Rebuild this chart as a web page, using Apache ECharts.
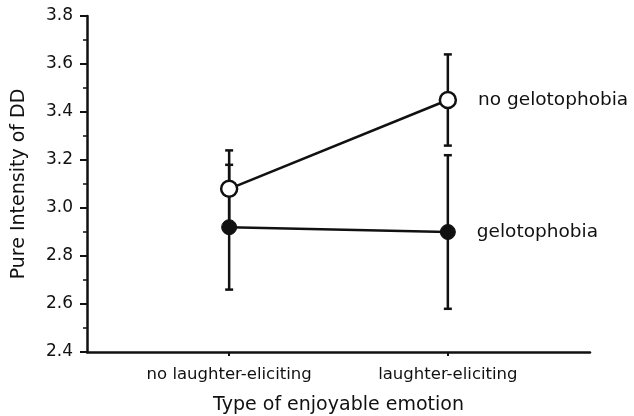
<!DOCTYPE html>
<html>
<head>
<meta charset="utf-8">
<script src="https://cdn.jsdelivr.net/npm/echarts@6/dist/echarts.min.js"></script>
<style>
  html, body { margin: 0; padding: 0; background: #fff; }
  #chart { width: 634px; height: 416px; }
</style>
</head>
<body>
<div id="chart"></div>
<script>
// categories on the x axis (placed at x = 1 and x = 2)
var categories = ['no laughter-eliciting', 'laughter-eliciting'];
var catPos = [1, 2];

// group means and error bars (low / high ends)
var noGeloMean = [3.08, 3.45];
var noGeloLow  = [2.92, 3.26];
var noGeloHigh = [3.24, 3.64];

var geloMean = [2.92, 2.90];
var geloLow  = [2.66, 2.58];
var geloHigh = [3.18, 3.22];

var seriesNames = ['no gelotophobia', 'gelotophobia'];

var ink = '#111';
var font = 'DejaVu Sans';

function pts(vals) {
  return vals.map(function (v, i) { return [catPos[i], v]; });
}
function bars(lo, hi) {
  return lo.map(function (v, i) { return [catPos[i], v, hi[i]]; });
}

// last point gets the series name as a label at its right
function withEndLabel(vals, name) {
  var d = pts(vals);
  var last = d.length - 1;
  d[last] = {
    value: d[last],
    label: {
      show: true, position: 'right', distance: 21,
      formatter: name, color: '#111', fontSize: 18.5, fontFamily: font
    }
  };
  return d;
}

function errRender(params, api) {
  var x = api.value(0);
  var lo = api.coord([x, api.value(1)]);
  var hi = api.coord([x, api.value(2)]);
  var w = 4;
  var st = { stroke: ink, lineWidth: 2.5 };
  return {
    type: 'group',
    children: [
      { type: 'line', shape: { x1: lo[0], y1: lo[1], x2: hi[0], y2: hi[1] }, style: st },
      { type: 'line', shape: { x1: lo[0] - w, y1: lo[1], x2: lo[0] + w, y2: lo[1] }, style: st },
      { type: 'line', shape: { x1: hi[0] - w, y1: hi[1], x2: hi[0] + w, y2: hi[1] }, style: st }
    ]
  };
}

var chart = echarts.init(document.getElementById('chart'), null, { renderer: 'canvas' });

var opt = {
  animation: false,
  grid: { left: 87, right: 44, top: 16, bottom: 64, outerBoundsMode: 'none' },
  xAxis: {
    type: 'value',
    min: 0.35,
    max: 2.65,
    name: 'Type of enjoyable emotion',
    nameLocation: 'middle',
    nameGap: 44,
    nameTextStyle: { color: '#111', fontSize: 19, fontFamily: font },
    axisLine: { lineStyle: { color: ink, width: 2.5 } },
    axisTick: { show: true, length: 4, customValues: catPos, lineStyle: { color: ink, width: 2 } },
    axisLabel: {
      customValues: catPos,
      margin: 14,
      color: '#111', fontSize: 16.5, fontFamily: font,
      formatter: function (v) { return categories[catPos.indexOf(v)] || ''; }
    },
    splitLine: { show: false }
  },
  yAxis: {
    type: 'value',
    min: 2.4,
    max: 3.8,
    interval: 0.2,
    name: 'Pure Intensity of DD',
    nameLocation: 'middle',
    nameGap: 58,
    nameTextStyle: { color: '#111', fontSize: 19, fontFamily: font },
    axisLine: { show: true, lineStyle: { color: ink, width: 2.5 } },
    axisTick: { show: true, length: 7, lineStyle: { color: ink, width: 2 } },
    minorTick: { show: true, splitNumber: 2, length: 4, lineStyle: { color: ink, width: 1.5 } },
    axisLabel: {
      margin: 14, color: '#111', fontSize: 17, fontFamily: font,
      formatter: function (v) { return v.toFixed(1); }
    },
    splitLine: { show: false }
  },
  series: [
    {
      type: 'custom', name: 'err1', renderItem: errRender,
      data: bars(noGeloLow, noGeloHigh), z: 1
    },
    {
      type: 'custom', name: 'err2', renderItem: errRender,
      data: bars(geloLow, geloHigh), z: 1
    },
    {
      type: 'line', name: seriesNames[0],
      data: withEndLabel(noGeloMean, seriesNames[0]),
      symbol: 'circle', symbolSize: 16,
      lineStyle: { color: ink, width: 2.5 },
      itemStyle: { color: '#fff', borderColor: ink, borderWidth: 2.5 },
      z: 3
    },
    {
      type: 'line', name: seriesNames[1],
      data: withEndLabel(geloMean, seriesNames[1]),
      symbol: 'circle', symbolSize: 15,
      lineStyle: { color: ink, width: 2.5 },
      itemStyle: { color: ink, borderColor: ink, borderWidth: 1 },
      z: 3
    }
  ]
};

chart.setOption(opt);
</script>
</body>
</html>
